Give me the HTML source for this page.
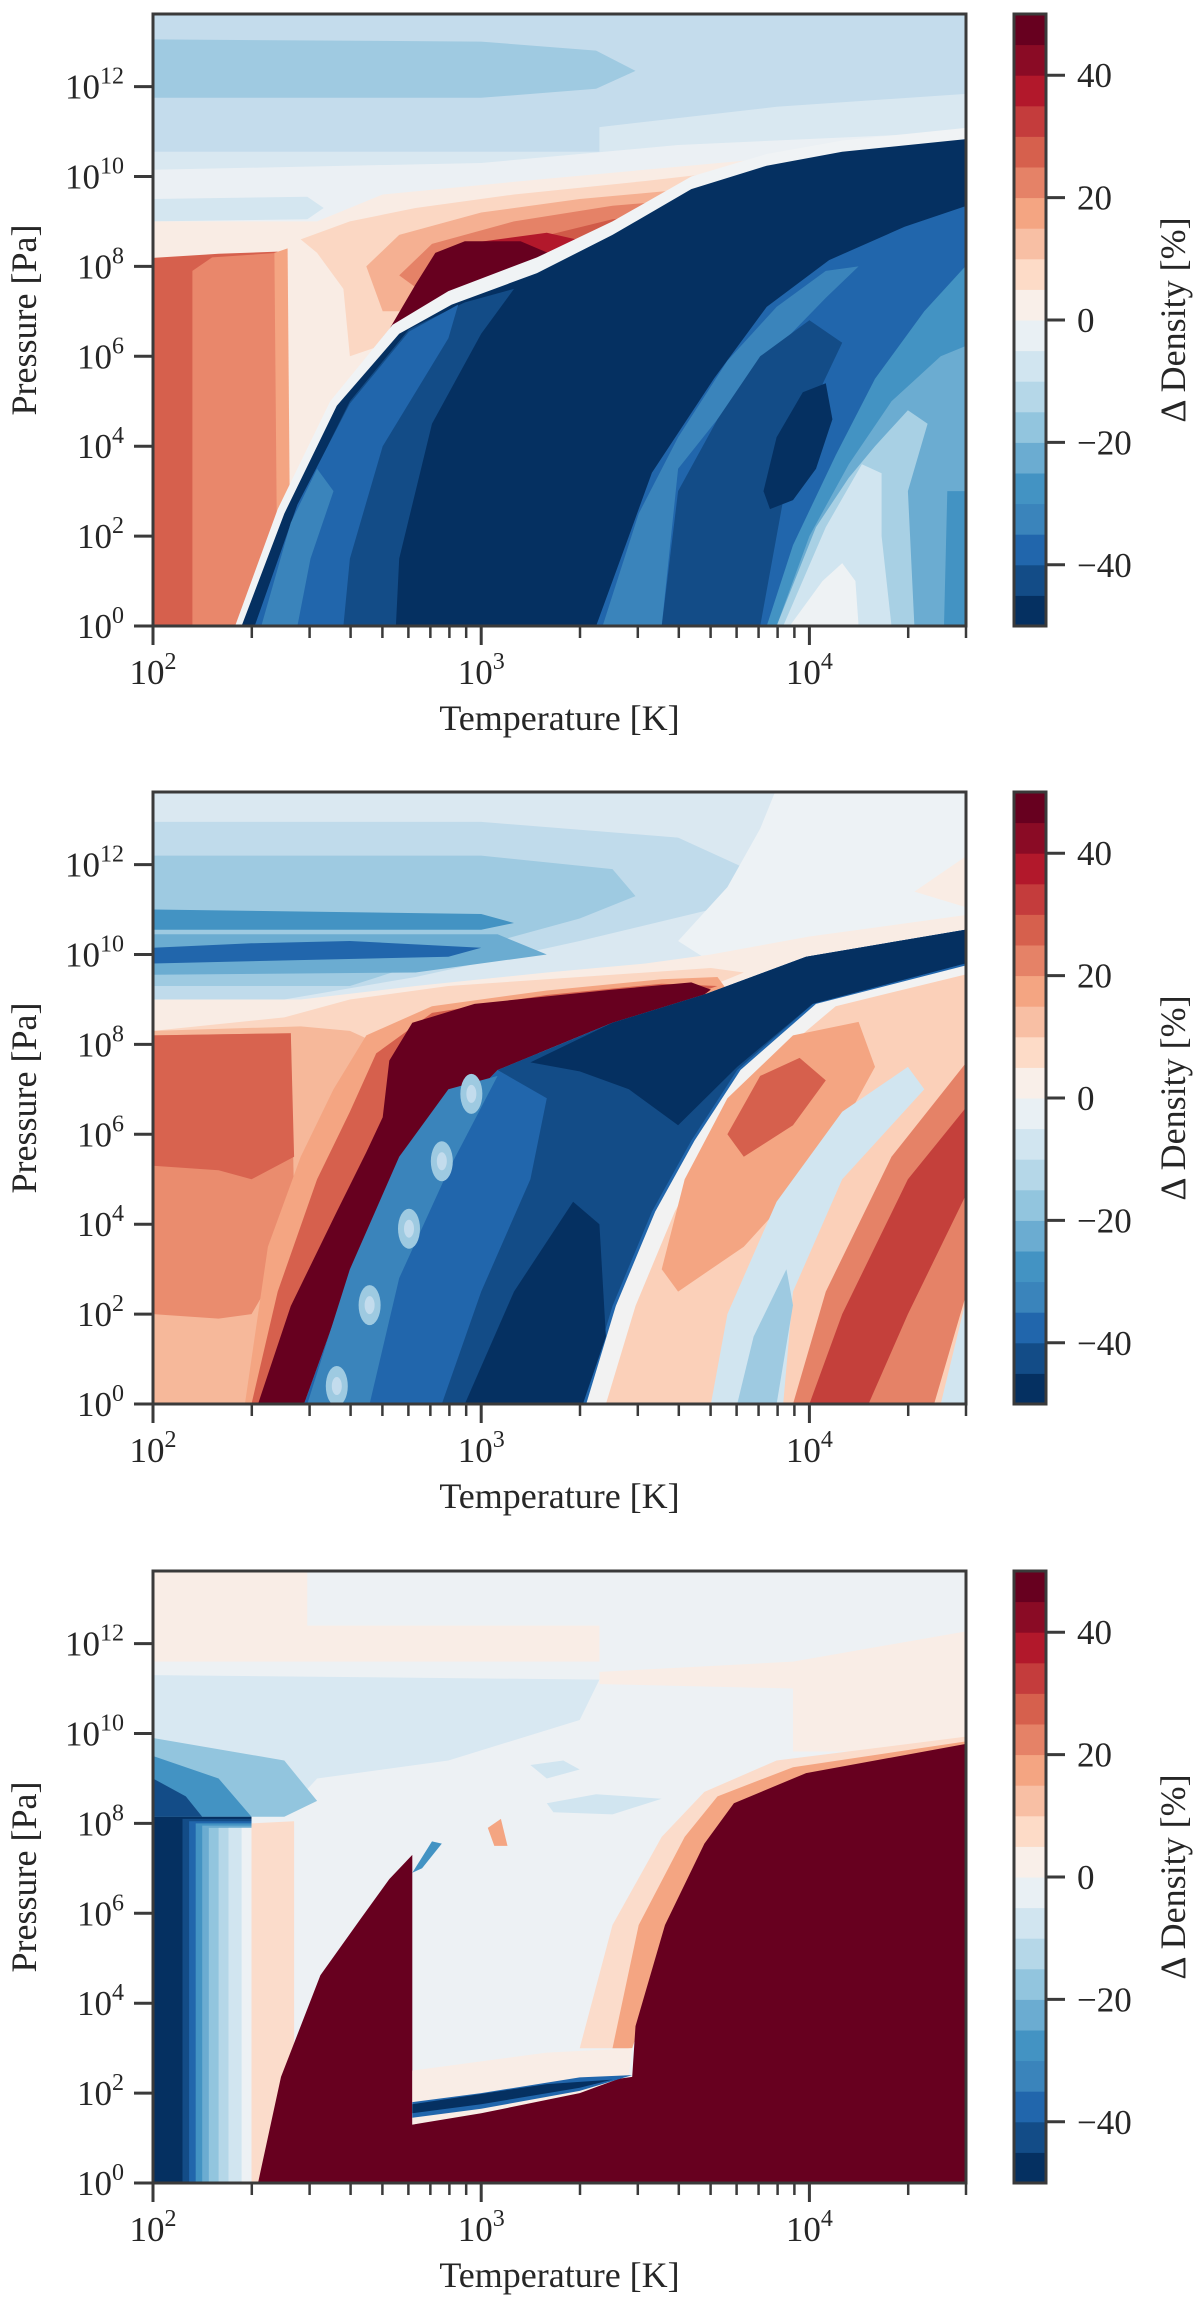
<!DOCTYPE html>
<html><head><meta charset="utf-8"><title>Density difference maps</title>
<style>
html,body{margin:0;padding:0;background:#fff;}
svg{display:block;font-family:"Liberation Serif","DejaVu Serif",serif;}
</style></head>
<body>
<svg id="fig" width="1200" height="2313" viewBox="0 0 1200 2313" xmlns="http://www.w3.org/2000/svg"></svg>
<script>
// ---- axis / scale data ----
const panelTops = [14, 792, 1571];
const xMajorTicks = [2, 3, 4];
const xMinorMults = [2,3,4,5,6,7,8,9];
const yTicks = [0, 2, 4, 6, 8, 10, 12];
const cbarTicks = [-40, -20, 0, 20, 40];
const levels = [-50,-45,-40,-35,-30,-25,-20,-15,-10,-5,0,5,10,15,20,25,30,35,40,45,50];
const levelColors = ['#053061','#134c87','#2166ac','#3a84bb','#4393c3','#6bacd1','#92c5de','#b5d7e8','#d1e5f0','#e9f0f4',
  '#f9efe9','#fddbc7','#f8bfa4','#f4a582','#e58267','#d6604d','#c43c3c','#b2182b','#8a0b25','#67001f'];

// ---- panel 1 regions: [logT, logP] ----
const p1Colors = ['#c4dcec','#9fcae1','#d9e8f1','#ebf0f4','#d4e6f0','#f9ece4','#fbd7c3','#f5b092','#e58267','#d05a48','#b2182b','#67001f',
  '#d6604d','#e9876b','#f4a582','#f0f3f5','#053061','#134c87','#2166ac','#3a84bb',
  '#2166ac','#3a84bb','#134c87','#053061','#4393c3','#6bacd1','#a8d0e4','#d1e5f0','#eef2f4'];
const p1Shapes = [
 [[2,13.7],[4.5,13.7],[4.5,0],[2,0]],
 [[2,13.05],[3.0,13.0],[3.35,12.8],[3.47,12.35],[3.35,11.95],[3.0,11.75],[2,11.75]],
 [[2,10.55],[3.36,10.55],[3.36,11.1],[3.9,11.55],[4.5,11.85],[4.5,0],[2,0]],
 [[2,10.15],[3.0,10.3],[3.6,10.7],[4.5,11.0],[4.5,0],[2,0]],
 [[2,9.5],[2.47,9.55],[2.52,9.3],[2.47,9.05],[2,9.0]],
 [[2,9.0],[2.5,9.0],[2.7,9.6],[3.2,9.95],[3.8,10.35],[4.5,10.8],[4.5,0],[2,0]],
 [[2.45,8.6],[2.6,9.0],[2.8,9.3],[3.1,9.6],[3.5,9.9],[3.8,10.15],[4.5,10.75],[4.5,9],[3.0,7.0],[2.6,6.0],[2.58,7.5],[2.5,8.3]],
 [[2.65,8.0],[2.75,8.7],[3.0,9.2],[3.3,9.5],[3.6,9.7],[3.85,9.85],[3.95,9.7],[3.4,8.2],[2.8,7.0],[2.7,7.0]],
 [[2.75,7.8],[2.85,8.5],[3.1,9.0],[3.4,9.35],[3.65,9.5],[3.8,9.45],[3.4,8.3],[2.9,7.0]],
 [[2.9,8.2],[3.15,8.6],[3.4,9.05],[3.65,9.25],[3.75,9.1],[3.3,8.0],[3.0,7.5]],
 [[2.85,7.6],[2.95,8.5],[3.2,8.75],[3.35,8.5],[3.2,7.8],[2.9,7.2]],
 [[2.55,4.9],[2.62,5.7],[2.72,6.6],[2.8,7.6],[2.86,8.3],[2.95,8.56],[3.12,8.56],[3.22,8.25],[3.17,7.9],[2.91,7.15],[2.75,6.5],[2.6,5.5]],
 [[2,8.19],[2.2,8.28],[2.38,8.33],[2.4,0],[2,0]],
 [[2.12,7.9],[2.18,8.2],[2.38,8.3],[2.39,0],[2.12,0]],
 [[2.37,8.3],[2.41,8.4],[2.42,0],[2.38,0]],
 [[2.25,0],[2.38,2.6],[2.54,5.0],[2.73,6.7],[2.9,7.45],[3.17,8.2],[3.4,9.0],[3.64,10.0],[3.87,10.5],[4.1,10.8],[4.5,11.1],[4.5,0]],
 [[2.27,0],[2.40,2.5],[2.56,4.9],[2.75,6.5],[2.91,7.15],[3.17,7.85],[3.4,8.7],[3.64,9.72],[3.87,10.24],[4.1,10.55],[4.5,10.85],[4.5,0]],
 [[2.31,0],[2.45,2.8],[2.6,5.0],[2.78,6.6],[2.95,7.2],[3.1,7.5],[3.0,6.5],[2.85,4.5],[2.75,1.5],[2.74,0]],
 [[2.31,0],[2.44,2.7],[2.6,4.95],[2.78,6.55],[2.93,7.15],[2.9,6.4],[2.7,4.0],[2.6,1.5],[2.58,0]],
 [[2.33,0],[2.42,2.3],[2.5,3.5],[2.55,3.0],[2.48,1.5],[2.44,0]],
 [[3.35,0],[3.45,2.0],[3.52,3.41],[3.71,5.51],[3.87,7.1],[4.06,8.14],[4.29,8.88],[4.5,9.4],[4.5,0]],
 [[3.37,0],[3.48,2.5],[3.6,4.2],[3.75,5.9],[3.9,7.1],[4.05,7.9],[4.15,8.0],[4.05,7.3],[3.85,5.8],[3.72,4.6],[3.6,3.5],[3.55,0]],
 [[3.55,0],[3.6,3.0],[3.72,4.6],[3.85,6.0],[4.0,6.8],[4.1,6.3],[3.95,4.0],[3.85,0]],
 [[3.86,3.0],[3.9,4.2],[3.98,5.2],[4.05,5.4],[4.07,4.6],[4.02,3.5],[3.95,2.8],[3.88,2.6]],
 [[3.87,0],[3.95,1.8],[4.08,3.8],[4.2,5.5],[4.35,7.0],[4.5,8.2],[4.5,0]],
 [[3.9,0],[4.0,2.0],[4.12,3.6],[4.25,5.0],[4.4,6.0],[4.5,6.3],[4.5,3.0],[4.42,3.0],[4.41,0]],
 [[3.9,0],[4.02,2.2],[4.12,3.3],[4.2,4.0],[4.3,4.8],[4.36,4.5],[4.3,3.0],[4.32,0]],
 [[3.92,0],[4.05,2.2],[4.16,3.6],[4.22,3.4],[4.22,2],[4.25,0]],
 [[3.94,0],[4.04,1.0],[4.1,1.4],[4.14,1.0],[4.15,0]]
];

// ---- panel 2 regions ----
const p2Colors = ['#dae8f1','#c0dbeb','#9ecae1','#6bacd1','#4393c3','#2166ac','#edf2f5','#f9ece4','#f9ece4','#fbd7c3','#f6b89a','#ea8c6e','#d8634f',
  '#f4a582','#d6604d','#67001f','#2166ac','#3a84bb','#134c87','#053061','#053061','#f2f2f2','#fbd0b9','#f4a582','#d6604d','#d1e5f0','#9ecae1','#e58267','#c4403b','#d1e5f0'];
const p2Shapes = [
 [[2,13.7],[4.5,13.7],[4.5,0],[2,0]],
 [[2,12.95],[3.0,12.95],[3.6,12.6],[3.87,11.7],[3.7,11.0],[3.3,10.3],[2.8,9.5],[2.4,9.0],[2,9.0]],
 [[2,12.2],[3.0,12.2],[3.4,11.9],[3.47,11.3],[3.3,10.8],[2.9,10.0],[2.6,9.3],[2,9.3]],
 [[2,10.45],[3.05,10.45],[3.2,10.0],[2.8,9.6],[2,9.55]],
 [[2,11.0],[3.0,10.9],[3.1,10.7],[3.0,10.55],[2,10.55]],
 [[2,10.15],[2.3,10.25],[2.6,10.3],[3.0,10.15],[2.9,9.95],[2,9.8]],
 [[3.9,13.7],[4.5,13.7],[4.5,10.9],[4.0,10.0],[3.75,9.6],[3.6,10.3],[3.75,11.5],[3.85,12.8]],
 [[2,9.0],[2.45,9.0],[2.8,9.3],[3.2,9.6],[3.5,9.8],[3.7,10.0],[4.0,10.4],[4.5,10.9],[4.5,0],[2,0]],
 [[4.32,11.4],[4.5,12.3],[4.5,11.0]],
 [[2,8.3],[2.4,8.6],[2.6,9.0],[2.9,9.3],[3.3,9.5],[3.7,9.7],[3.8,9.6],[3.6,9.0],[3.0,8.0],[2.5,5],[2.4,0],[2,0]],
 [[2,8.3],[2.45,8.4],[2.6,8.3],[2.75,7.8],[2.5,5],[2.35,0],[2,0]],
 [[2,8.2],[2.42,8.25],[2.43,4.5],[2.38,3.0],[2.3,2.0],[2.2,1.9],[2,2.0]],
 [[2,8.2],[2.42,8.25],[2.43,5.5],[2.3,5.0],[2.2,5.2],[2,5.3]],
 [[2.28,0],[2.35,3.5],[2.45,5.5],[2.55,7.0],[2.65,8.2],[2.85,8.85],[3.2,9.2],[3.55,9.45],[3.72,9.5],[3.75,9.2],[3.2,8],[2.8,5],[2.5,0]],
 [[2.3,0],[2.38,2.5],[2.5,5.0],[2.6,6.5],[2.68,7.8],[2.85,8.7],[3.2,9.1],[3.55,9.35],[3.72,9.3],[3.2,8],[2.8,5],[2.5,0]],
 [[2.32,0],[2.42,2.18],[2.56,4.28],[2.65,5.6],[2.70,6.38],[2.72,7.64],[2.79,8.48],[2.98,8.9],[3.40,9.22],[3.64,9.38],[3.70,9.22],[3.68,9.11],[3.40,8.48],[3.05,7.43],[2.84,5.86],[2.63,3.44],[2.46,0]],
 [[2.46,0],[2.63,3.44],[2.84,5.86],[3.05,7.43],[3.40,8.48],[3.68,9.11],[3.99,9.95],[4.5,10.58],[4.5,0]],
 [[2.47,0],[2.6,3.0],[2.75,5.5],[2.9,7.0],[3.05,7.3],[2.9,5.2],[2.75,2.8],[2.66,0]],
 [[2.88,0],[3.0,2.5],[3.15,5.0],[3.2,6.8],[3.05,7.43],[3.40,8.48],[3.68,9.11],[3.99,9.95],[4.5,10.58],[4.5,9.85],[4.01,8.9],[3.78,7.43],[3.64,5.86],[3.52,4.28],[3.40,2.18],[3.31,0]],
 [[2.95,0],[3.1,2.5],[3.28,4.5],[3.36,4.0],[3.38,1.5],[3.31,0]],
 [[3.15,7.6],[3.40,8.48],[3.68,9.11],[3.99,9.95],[4.5,10.58],[4.5,9.85],[4.01,8.9],[3.78,7.5],[3.6,6.2],[3.45,7.0],[3.3,7.4]],
 [[3.32,0],[3.41,2.18],[3.53,4.28],[3.65,5.86],[3.79,7.43],[4.02,8.9],[4.5,9.8],[4.5,0]],
 [[3.38,0],[3.47,2.18],[3.59,4.28],[3.71,5.86],[3.85,7.43],[4.08,8.85],[4.5,9.6],[4.5,0]],
 [[3.55,3.0],[3.62,5.0],[3.75,6.8],[3.95,8.2],[4.15,8.5],[4.2,7.5],[4.05,5.5],[3.8,3.5],[3.6,2.5]],
 [[3.75,6.0],[3.85,7.3],[3.97,7.7],[4.05,7.2],[3.95,6.2],[3.8,5.5]],
 [[3.7,0],[3.75,2.0],[3.9,4.5],[4.1,6.5],[4.3,7.5],[4.35,7.0],[4.1,5.0],[3.95,2.5],[3.92,0]],
 [[3.78,0],[3.83,1.5],[3.93,3.0],[3.95,2.2],[3.9,0]],
 [[3.95,0],[4.05,2.5],[4.25,5.5],[4.5,7.8],[4.5,3.0],[4.38,0]],
 [[4.0,0],[4.1,2.0],[4.3,5.0],[4.5,6.8],[4.5,5.0],[4.3,2.0],[4.18,0]],
 [[4.4,0],[4.5,0],[4.5,3.0],[4.45,1.5]]
];
const p2Spots = [[2.56,0.4],[2.66,2.2],[2.78,3.9],[2.88,5.4],[2.97,6.9]];

// ---- panel 3 regions ----
const p3Colors = ['#edf1f4','#f9ede6','#f9ede6','#d8e8f2','#92c5de','#4393c3','#134c87',
 '#053061','#134c87','#2166ac','#4393c3','#6bacd1','#92c5de','#b5d7e8','#d1e5f0','#edf1f4','#fbdccb',
 '#fbdccb','#f4a582','#67001f','#f9ede6','#2166ac','#053061','#d1e5f0','#d1e5f0','#f4a582','#4393c3'];
const p3Shapes = [
 [[2,13.7],[4.5,13.7],[4.5,0],[2,0]],
 [[2,13.7],[2.47,13.7],[2.47,12.4],[3.36,12.4],[3.36,11.6],[2,11.6]],
 [[3.36,11.37],[3.95,11.6],[4.5,12.3],[4.5,9.6],[3.95,9.6],[3.95,11.0],[3.36,11.1]],
 [[2,11.3],[3.36,11.2],[3.3,10.3],[2.9,9.4],[2.5,9.0],[2.4,8.2],[2,8.2]],
 [[2,9.9],[2.4,9.4],[2.5,8.5],[2.4,8.15],[2,8.15]],
 [[2,9.5],[2.2,9.0],[2.3,8.15],[2,8.15]],
 [[2,9.0],[2.1,8.6],[2.15,8.15],[2,8.15]],
 [[2,8.15],[2.3,8.15],[2.3,0],[2,0]],
 [[2.09,8.1],[2.3,8.1],[2.3,0],[2.09,0]],
 [[2.11,8.05],[2.3,8.05],[2.3,0],[2.11,0]],
 [[2.13,8.0],[2.3,8.0],[2.3,0],[2.13,0]],
 [[2.15,7.95],[2.3,7.95],[2.3,0],[2.15,0]],
 [[2.17,7.9],[2.3,7.9],[2.3,0],[2.17,0]],
 [[2.2,7.9],[2.3,7.9],[2.3,0],[2.2,0]],
 [[2.23,7.9],[2.3,7.9],[2.3,0],[2.23,0]],
 [[2.27,7.9],[2.3,7.9],[2.3,0],[2.27,0]],
 [[2.3,8.0],[2.43,8.05],[2.43,0],[2.3,0]],
 [[3.3,3.0],[3.4,5.74],[3.55,7.7],[3.68,8.7],[3.9,9.4],[4.5,9.95],[4.5,9.6],[3.8,8.5],[3.6,6.0],[3.45,3.0]],
 [[3.4,3.0],[3.48,5.74],[3.62,7.7],[3.72,8.6],[3.95,9.25],[4.5,9.85],[4.5,9.6],[3.8,8.5],[3.6,6.0],[3.46,3.0]],
 [[2.32,0],[2.39,2.36],[2.51,4.62],[2.63,5.85],[2.72,6.76],[2.79,7.3],[2.79,1.3],[3.40,2.3],[3.46,2.36],[3.47,3.49],[3.56,5.74],[3.68,7.55],[3.77,8.45],[3.99,9.12],[4.5,9.8],[4.5,0]],
 [[2.79,1.3],[3.0,1.55],[3.3,2.0],[3.45,2.4],[3.46,3.0],[3.2,2.9],[2.79,2.5]],
 [[2.79,1.45],[3.0,1.65],[3.3,2.05],[3.46,2.4],[3.3,2.35],[3.0,2.0],[2.79,1.8]],
 [[2.79,1.55],[3.0,1.75],[3.3,2.12],[3.4,2.3],[3.2,2.2],[2.79,1.75]],
 [[3.15,9.3],[3.25,9.4],[3.3,9.2],[3.2,9.0]],
 [[3.2,8.45],[3.35,8.65],[3.55,8.55],[3.4,8.2],[3.22,8.25]],
 [[3.02,7.9],[3.06,8.1],[3.08,7.5],[3.04,7.5]],
 [[2.79,6.9],[2.85,7.6],[2.88,7.55],[2.82,7.0]]
];

// ---- helpers ----
const NS = 'http://www.w3.org/2000/svg';
const svg = document.getElementById('fig');
const L = 153, R = 966, H = 612, PPD = 44.95, XPD = (R - L) / (Math.log10(30000) - 2);
function xs(lt){ return L + (lt - 2) * XPD; }
function ys(lp, top){ return top + H - lp * PPD; }
function mk(tag, attrs, parent){ const e = document.createElementNS(NS, tag); for (const k in attrs) e.setAttribute(k, attrs[k]); (parent||svg).appendChild(e); return e; }

function drawPanel(idx, top, colors, shapes, spots){
  const g = mk('g', {});
  
  
  const cp = mk('clipPath', {id: 'clip' + idx}, g);
  mk('rect', {x: L, y: top, width: R - L, height: H}, cp);
  const fills = mk('g', {'clip-path': 'url(#clip' + idx + ')'}, g);
  shapes.forEach((pts, i) => {
    const poly = mk('polygon', {points: pts.map(p => xs(p[0]).toFixed(1) + ',' + ys(p[1], top).toFixed(1)).join(' '), fill: colors[i]}, fills);
    
    
  });
  (spots || []).forEach(s => {
    const e = mk('ellipse', {cx: xs(s[0]), cy: ys(s[1], top), rx: 11, ry: 20, fill: '#9ecae1'}, fills);
    
    
    const e2 = mk('ellipse', {cx: xs(s[0]), cy: ys(s[1], top), rx: 5, ry: 9, fill: '#c3dced'}, fills);
    
    
  });
  const frame = mk('rect', {x: L, y: top, width: R - L, height: H, fill: 'none', stroke: '#3a3a3a', 'stroke-width': 3}, g);
  
  
  const bottom = top + H;
  for (let d = 2; d <= 4; d++) {
    xMinorMults.forEach(m => {
      const lt = d + Math.log10(m);
      if (lt > Math.log10(30000) + 1e-6) return;
      const t = mk('line', {x1: xs(lt), x2: xs(lt), y1: bottom, y2: bottom + 12, stroke: '#3a3a3a', 'stroke-width': 2.5}, g);
      
      
    });
  }
  xMajorTicks.forEach(d => {
    const t = mk('line', {x1: xs(d), x2: xs(d), y1: bottom, y2: bottom + 19, stroke: '#3a3a3a', 'stroke-width': 3}, g);
    
    
    const tx = mk('text', {x: xs(d), y: bottom + 58, 'text-anchor': 'middle', 'font-size': 35, fill: '#262626'}, g);
    
    
    tx.innerHTML = '10<tspan font-size="24" dy="-15">' + d + '</tspan>';
  });
  yTicks.forEach(p => {
    const y = ys(p, top);
    const t = mk('line', {x1: L - 19, x2: L, y1: y, y2: y, stroke: '#3a3a3a', 'stroke-width': 3}, g);
    
    
    const tx = mk('text', {x: 124, y: y + 12, 'text-anchor': 'end', 'font-size': 35, fill: '#262626'}, g);
    
    
    tx.innerHTML = '10<tspan font-size="24" dy="-15">' + p + '</tspan>';
  });
  const xt = mk('text', {x: (L + R) / 2, y: bottom + 104, 'text-anchor': 'middle', 'font-size': 36, fill: '#262626'}, g);
  
  
  xt.textContent = 'Temperature [K]';
  const mid = top + H / 2;
  const yt = mk('text', {x: 0, y: 0, transform: 'translate(36,' + mid + ') rotate(-90)', 'text-anchor': 'middle', 'font-size': 36, fill: '#262626'}, g);
  
  
  yt.textContent = 'Pressure [Pa]';
  const cb = mk('g', {}, g);
  
  
  const cbx = 1014, cbw = 32, lo = levels[0], hi = levels[levels.length - 1];
  const cy = v => top + H - (v - lo) / (hi - lo) * H;
  for (let i = 0; i < levelColors.length; i++) {
    const r = mk('rect', {x: cbx, y: cy(levels[i+1]), width: cbw, height: cy(levels[i]) - cy(levels[i+1]) + 0.5, fill: levelColors[i]}, cb);
    
    
  }
  const cbf = mk('rect', {x: cbx, y: top, width: cbw, height: H, fill: 'none', stroke: '#3a3a3a', 'stroke-width': 3}, cb);
  
  
  cbarTicks.forEach(v => {
    const t = mk('line', {x1: cbx + cbw, x2: cbx + cbw + 19, y1: cy(v), y2: cy(v), stroke: '#3a3a3a', 'stroke-width': 3}, cb);
    
    
    const tx = mk('text', {x: 1077, y: cy(v) + 12, 'font-size': 35, fill: '#262626'}, cb);
    
    
    tx.textContent = v < 0 ? '\u2212' + Math.abs(v) : String(v);
  });
  const ct = mk('text', {x: 0, y: 0, transform: 'translate(1185,' + mid + ') rotate(-90)', 'text-anchor': 'middle', 'font-size': 36, fill: '#262626'}, cb);
  
  
  ct.textContent = '\u0394 Density [%]';
}
drawPanel(0, panelTops[0], p1Colors, p1Shapes, []);
drawPanel(1, panelTops[1], p2Colors, p2Shapes, p2Spots);
drawPanel(2, panelTops[2], p3Colors, p3Shapes, []);
</script>
</body></html>
